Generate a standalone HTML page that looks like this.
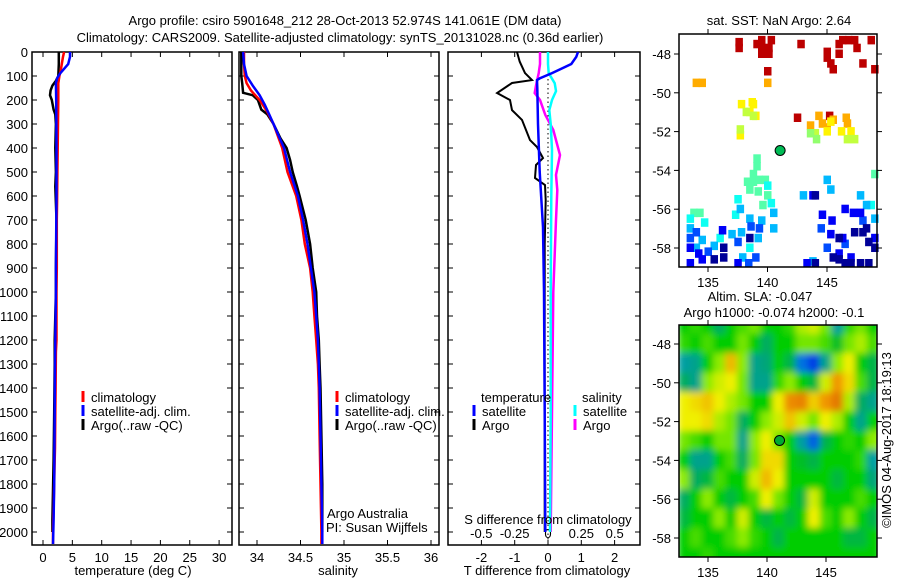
<!DOCTYPE html>
<html><head><meta charset="utf-8"><style>
html,body{margin:0;padding:0;background:#fff;}
svg{display:block;font-family:"Liberation Sans",sans-serif;}
text{font-size:13px;fill:#000;}
</style></head><body>
<svg id="fig" width="900" height="580" viewBox="0 0 900 580">
<defs>
<filter id="blur" x="-5%" y="-5%" width="110%" height="110%"><feGaussianBlur stdDeviation="3.5" edgeMode="duplicate"/></filter>
<clipPath id="clipSla"><rect x="679" y="325" width="198" height="232"/></clipPath>
</defs>
<text x="345" y="25" text-anchor="middle">Argo profile: csiro 5901648_212 28-Oct-2013 52.974S 141.061E (DM data)</text>
<text x="340" y="42" text-anchor="middle">Climatology: CARS2009. Satellite-adjusted climatology: synTS_20131028.nc (0.36d earlier)</text>
</svg>
<script>
// ---- profile data (depth m, value) ----
const tempClimDepth=[0,20,50,80,100,130,200,300,400,500,620,700,900,1000,1200,1250,1400,1500,1650,1700,1800,2000,2050];
const tempClimVal=[3.6,3.4,3.2,3.0,2.8,2.6,2.6,2.55,2.5,2.45,2.4,2.35,2.35,2.3,2.3,2.2,2.15,2.1,2.05,2.0,1.9,1.7,1.7];
const tempSatDepth=[0,20,50,70,90,110,130,200,400,600,900,1000,1300,1500,1800,1950,2050];
const tempSatVal=[4.6,4.6,4.3,3.6,2.9,2.4,2.2,2.25,2.3,2.3,2.2,2.2,2.05,2.0,1.9,1.8,1.7];
const tempArgoDepth=[0,50,100,120,140,160,180,200,240,260,300,400,500,560,700,900,1000,1200,1300,1500,1700,1950,2000];
const tempArgoVal=[2.7,2.7,2.6,2.2,1.6,1.3,1.2,1.5,1.8,2.1,2.2,2.1,2.2,2.1,2.3,2.2,2.2,2.0,2.0,1.9,1.8,1.6,1.6];
const salClimDepth=[0,50,100,130,160,200,250,300,400,500,600,700,800,900,1000,1100,1200,1300,1400,1600,1800,2000,2050];
const salClimVal=[33.85,33.85,33.86,33.88,33.93,34.03,34.12,34.19,34.29,34.35,34.45,34.51,34.55,34.61,34.64,34.66,34.68,34.70,34.71,34.72,34.73,34.74,34.74];
const salSatDepth=[0,50,100,140,180,220,260,300,400,500,600,700,800,900,1000,1100,1200,1300,1400,1600,1800,2000,2050];
const salSatVal=[33.84,33.85,33.88,33.95,34.03,34.09,34.14,34.19,34.31,34.38,34.47,34.53,34.58,34.62,34.66,34.68,34.70,34.71,34.72,34.73,34.74,34.75,34.75];
const salArgoDepth=[0,50,100,130,170,180,200,240,260,300,360,400,450,500,560,600,700,800,900,1000,1100,1200,1300,1400,1600,1800,2000];
const salArgoVal=[33.82,33.82,33.82,33.83,33.84,33.95,34.01,34.05,34.12,34.19,34.27,34.34,34.38,34.41,34.46,34.49,34.56,34.61,34.64,34.68,34.69,34.71,34.72,34.73,34.74,34.75,34.75];
const dTSatDepth=[0,20,50,70,88,110,117,150,300,500,729,1000,1500,2000];
const dTSatVal=[0.9,0.85,0.7,0.4,0.12,-0.25,-0.33,-0.32,-0.3,-0.25,-0.15,-0.12,-0.1,-0.08];
const dTArgoDepth=[0,40,88,117,129,171,200,242,283,367,396,442,471,525,554,617,800,1000,1500,2000];
const dTArgoVal=[-0.93,-0.85,-0.69,-0.48,-1.08,-1.53,-1.14,-1.08,-0.78,-0.54,-0.33,-0.15,-0.36,-0.39,-0.09,-0.07,-0.1,-0.1,-0.1,-0.1];
const dSSatDepth=[0,50,88,130,163,200,242,300,408,600,1000,1500,2000];
const dSSatVal=[0.0,0.0,0.005,0.05,0.06,0.03,0.01,0.02,0.03,0.025,0.02,0.02,0.015];
const dSArgoDepth=[0,50,88,140,171,200,262,325,429,512,575,700,1000,1500,2000];
const dSArgoVal=[-0.06,-0.06,-0.07,-0.09,-0.1,-0.06,-0.02,0.04,0.09,0.06,0.07,0.06,0.04,0.03,0.02];
const depthTicks=[0,100,200,300,400,500,600,700,800,900,1000,1100,1200,1300,1400,1500,1600,1700,1800,1900,2000];
const tempTicks=[0,5,10,15,20,25,30];
const salTicks=[34,34.5,35,35.5,36];
const tdTicks=[-2,-1,0,1,2];
const sdTicks=[-0.5,-0.25,0,0.25,0.5];
// ---- SST map cells ----
const sstLon=[137.6,137.6,139.1,139.5,139.5,139.5,140.3,140.1,140.1,142.8,145,145,145.3,145.5,146,146,146.3,146.8,147.3,147.5,148.7,148,149,140,142.5,145.2,
134,134.5,140,143.6,144.3,144.6,145.5,146.7,146.6,145,
137.8,138.8,138.5,139,137.7,145,146.2,147,145.3,138.7,
138.2,138.8,137.7,144,146.7,147.3,144.1,143.6,
139.1,139.1,138.8,138.3,138.8,139.3,139.8,138.5,139.2,140,149,133.8,134.3,139.6,
137.5,140,140.3,133.5,134.7,137.3,138.5,148.7,136,
137.7,138.5,139.5,140.5,133.5,134.5,135.5,134,137,137.8,139.2,143,145.3,145,147.8,148.3,149,140.5,137.9,143.8,
133.5,134,135,137.5,138.6,139.3,144.5,145,146.5,148,138.4,139,
133.5,134.2,136.2,143.8,144.6,145.4,146.5,147.2,147.8,146,147,145.3,146.3,149,134.5,133.5,137.5,143.3,
135.5,136.3,136.3,138.5,144,145.5,146,147.3,148,148.5,149,148.3,146.5,147,147.8,148.5,144,146];
const sstLat=[-47.4,-47.7,-47.5,-47.3,-47.7,-48,-47.3,-47.7,-48,-47.5,-47.9,-48.2,-48.5,-48.8,-47.5,-48,-47.3,-47.3,-47.3,-47.7,-47.3,-48.5,-48.8,-48.9,-51.3,-51.2,
-49.5,-49.5,-49.5,-51.7,-51.2,-51.6,-51.4,-51.6,-51.3,-51.8,
-50.6,-50.6,-51,-51.2,-52.2,-52,-52,-52,-51.5,-50.5,
-51,-51.2,-51.9,-52.1,-52.4,-52.4,-52.4,-52.1,
-53.4,-53.8,-54.2,-54.6,-54.6,-54.5,-54.5,-55,-55.1,-55.3,-54.2,-56.2,-56.2,-55.8,
-55.5,-54.8,-55.7,-56.5,-56.7,-56.3,-58,-55.8,-57.5,
-56,-56.5,-56.6,-56.2,-57,-57.6,-57.9,-58,-57.3,-57.2,-57.5,-55.3,-55,-54.5,-55.3,-55.8,-56.5,-57,-58.5,-58.7,
-57.5,-57.2,-58.2,-57.7,-56.9,-57,-57,-58,-57.8,-56.6,-58.8,-58.5,
-58,-58.3,-57.1,-55.3,-56.3,-56.6,-56,-56.2,-56.2,-58.3,-58.5,-57.3,-57.5,-57.5,-58.6,-58.8,-58.8,-58.8,
-58.6,-58,-58.5,-57.5,-55.3,-58.5,-57.5,-57.2,-57.2,-57.7,-58,-57,-58.8,-58.8,-58.8,-58.8,-58.8,-58.6];
const sstVal=[8,8,8,8,8,8,8,8,8,8,8,8,8,8,8,8,8,8,8,8,8,8,8,8,8,8,
6,6,6,6,6,6,6,6,6,6,
5.4,5.4,5.4,5.4,5.4,5.4,5.4,5.4,5.4,5.4,
4.8,4.8,4.8,4.8,4.8,4.8,4.4,4.4,
3.9,3.9,3.9,3.9,3.9,3.9,3.9,3.9,3.9,3.9,3.9,3.9,3.9,3.9,
3.3,3.3,3.3,3.3,3.3,3.3,3.3,3.3,3.3,
2.6,2.6,2.6,2.6,2.6,2.6,2.6,2.6,2.6,2.6,2.6,2.6,2.6,2.6,2.6,2.6,2.6,2.6,2.6,2.6,
1.7,1.7,1.7,1.7,1.7,1.7,1.7,1.7,1.7,1.7,1.7,1.7,
1.0,1.0,1.0,1.0,1.0,1.0,1.0,1.0,1.0,1.0,1.0,1.0,1.0,1.0,1.0,1.0,1.0,1.0,
0.2,0.2,0.2,0.2,0.2,0.2,0.2,0.2,0.2,0.2,0.2,0.2,0.2,0.2,0.2,0.2,0.2,0.2];
// ---- SLA grid (lon 133..149, lat -47..-59) ----
const slaLons=[133,134,135,136,137,138,139,140,141,142,143,144,145,146,147,148,149];
const slaLats=[-47,-48,-49,-50,-51,-52,-53,-54,-55,-56,-57,-58,-59];
const slaGrid=[
[0,0.02,0,-0.08,0,0.03,0.05,0,0,0.02,0.08,0.1,0.05,-0.14,0.02,0.05,0],
[0.02,0,0.03,0,0,0.05,0,-0.08,0,0,0.05,0.05,0.03,-0.03,0.05,0.08,0.03],
[-0.14,-0.12,0,0.06,0.17,0.06,-0.12,-0.1,0,-0.06,-0.24,-0.32,-0.12,0.06,0.12,0,-0.06],
[-0.08,-0.12,0.06,0.1,0.12,0.05,-0.12,-0.12,0.02,0.06,0,-0.05,0.1,0.2,0.14,0.03,-0.06],
[0.12,0.14,0.16,0.12,0.08,0.05,0,0,0.12,0.22,0.24,0.15,0.2,0.26,0.08,-0.08,-0.12],
[0.12,0.12,0.14,0.08,0.05,-0.08,0,0.06,0.1,0.16,0.1,0.05,0.12,0.08,0,-0.12,0],
[0.05,0.03,0,0.05,0.05,-0.12,0.06,0.12,0.05,0,-0.14,-0.26,-0.06,0,0.02,0,0.06],
[0,-0.12,-0.12,0,0.03,-0.08,0.05,0.14,0.14,0,-0.03,-0.06,0,0,0,0.02,-0.14],
[0.06,-0.08,-0.05,0.03,0,0,0.1,0.17,0.12,0,0,0,0,-0.05,0,0,-0.1],
[-0.08,0,0.06,0,-0.05,0,0.03,0.12,0.05,0,-0.05,0.1,0,0,0,0.03,0],
[-0.05,0,0,0.06,0,0.1,0,-0.05,0,-0.05,0,0.12,0.03,0,0.06,0,-0.06],
[0,0.03,0,0,0.03,0.06,0.02,0,-0.06,0,0,0,0,0,-0.05,-0.05,0],
[0,0,0.02,0,0,0,0,0,0,0,0,0,0,0,0,0,0]];
const mapLonTicks=[135,140,145];
const mapLatTicks=[-48,-50,-52,-54,-56,-58];
const argoLon=141.061, argoLat=-52.974;

const NS='http://www.w3.org/2000/svg';
const svg=document.getElementById('fig');
function mk(tag,attrs,parent){const e=document.createElementNS(NS,tag);for(const k in attrs)e.setAttribute(k,attrs[k]);(parent||svg).appendChild(e);return e;}
function txt(x,y,s,anchor,parent){const t=mk('text',{x:x,y:y,'text-anchor':anchor||'start'},parent);t.textContent=s;return t;}
const yD=d=>52+d*0.24;
const PT={x0:32,x1:232}, PS={x0:239,x1:439}, PD={x0:448,x1:640};
const xT=v=>43+v*5.87, xS=v=>257+(v-34)*87, xTd=v=>548+v*33.3, xSd=v=>548+v*133.3;
const B=545;

function frame(P,name){
  const r=mk('rect',{x:P.x0,y:52,width:P.x1-P.x0,height:B-52,fill:'none',stroke:'#000','stroke-width':1.5});
  
  
  depthTicks.forEach(d=>{
    mk('line',{x1:P.x0,x2:P.x0+5,y1:yD(d),y2:yD(d),stroke:'#000'});
    mk('line',{x1:P.x1-5,x2:P.x1,y1:yD(d),y2:yD(d),stroke:'#000'});
  });
}
function xticks(vals,f,labels){
  vals.forEach(v=>{const x=f(v);mk('line',{x1:x,x2:x,y1:B,y2:B-5,stroke:'#000'});mk('line',{x1:x,x2:x,y1:52,y2:57,stroke:'#000'});
    if(labels){const t=txt(x,B+17,String(v),'middle');}});
}
function line(ds,vs,f,color,w,name){
  const pts=ds.map((d,i)=>f(vs[i]).toFixed(1)+','+yD(d).toFixed(1)).join(' ');
  const p=mk('polyline',{points:pts,fill:'none',stroke:color,'stroke-width':w,'stroke-linejoin':'miter'});
  
  
}
function legend(x,y,items){
  items.forEach((it,i)=>{mk('line',{x1:x,x2:x,y1:y+i*14-11,y2:y+i*14,stroke:it[0],'stroke-width':3});
    const t=txt(x+8,y+i*14,it[1]);});
}
// panel 1
frame(PT,'temperature-panel');
depthTicks.forEach(d=>{const t=txt(28,yD(d)+5,String(d),'end');});
xticks(tempTicks,xT,true);
line(tempArgoDepth,tempArgoVal,xT,'#000',2.5,'temp-argo-line');
line(tempClimDepth,tempClimVal,xT,'#f00',2.5,'temp-climatology-line');
line(tempSatDepth,tempSatVal,xT,'#00f',2.5,'temp-satellite-line');
legend(83,402,[['#f00','climatology'],['#00f','satellite-adj. clim.'],['#000','Argo(..raw -QC)']]);
let t=txt(133,575,'temperature (deg C)','middle');
// panel 2
frame(PS,'salinity-panel');
xticks(salTicks,xS,true);
line(salArgoDepth,salArgoVal,xS,'#000',2.5,'sal-argo-line');
line(salClimDepth,salClimVal,xS,'#f00',2.5,'sal-climatology-line');
line(salSatDepth,salSatVal,xS,'#00f',2.5,'sal-satellite-line');
legend(337,402,[['#f00','climatology'],['#00f','satellite-adj. clim.'],['#000','Argo(..raw -QC)']]);
t=txt(327,518,'Argo Australia');
t=txt(326,532,'PI: Susan Wijffels');
t=txt(338,575,'salinity','middle');
// panel 3
frame(PD,'difference-panel');
xticks(tdTicks,xTd,true);
sdTicks.forEach(v=>{const tt=txt(xSd(v),538,String(v),'middle');});
mk('line',{x1:548,x2:548,y1:52,y2:B,stroke:'#000','stroke-dasharray':'1.5,3'});
line(dTArgoDepth,dTArgoVal,xTd,'#000',2,'tdiff-argo-line');
line(dSArgoDepth,dSArgoVal,xSd,'#f0f',2.5,'sdiff-argo-line');
line(dSSatDepth,dSSatVal,xSd,'#0ff',2.5,'sdiff-satellite-line');
line(dTSatDepth,dTSatVal,xTd,'#00f',2.5,'tdiff-satellite-line');
t=txt(481,402,'temperature');
t=txt(582,402,'salinity');
legend(474,416,[['#00f','satellite'],['#000','Argo']]);
legend(575,416,[['#0ff','satellite'],['#f0f','Argo']]);
t=txt(548,524,'S difference from climatology','middle');
t=txt(547,575,'T difference from climatology','middle');

// maps
function jet(v,lo,hi){let x=(v-lo)/(hi-lo);x=Math.max(0,Math.min(1,x));
  const r=Math.max(0,Math.min(1,1.5-Math.abs(4*x-3))),g=Math.max(0,Math.min(1,1.5-Math.abs(4*x-2))),b=Math.max(0,Math.min(1,1.5-Math.abs(4*x-1)));
  return `rgb(${Math.round(r*255)},${Math.round(g*255)},${Math.round(b*255)})`;}
function mapAxes(M,name){
  const r=mk('rect',{x:M.x0,y:M.y0,width:M.x1-M.x0,height:M.y1-M.y0,fill:'none',stroke:'#000','stroke-width':1.5});
  
  mapLonTicks.forEach(l=>{const x=M.lx(l);mk('line',{x1:x,x2:x,y1:M.y1,y2:M.y1+5,stroke:'#000'});mk('line',{x1:x,x2:x,y1:M.y0,y2:M.y0-5,stroke:'#000'});
    const tt=txt(x,M.y1+20,String(l),'middle');});
  mapLatTicks.forEach(l=>{const y=M.ly(l);mk('line',{x1:M.x0,x2:M.x0-5,y1:y,y2:y,stroke:'#000'});mk('line',{x1:M.x1,x2:M.x1+5,y1:y,y2:y,stroke:'#000'});
    const tt=txt(M.x0-8,y+5,String(l),'end');});
  const c=mk('circle',{cx:M.lx(argoLon),cy:M.ly(argoLat),r:5,fill:M.dot,stroke:'#000','stroke-width':1});
  
}
const M1={x0:679,x1:877,y0:34,y1:267,lx:l=>708+(l-135)*11.9,ly:l=>54+(-48-l)*19.4,dot:'#0b5'};
const sstG=mk('g',{});
sstLon.forEach((lo,i)=>{mk('rect',{x:(M1.lx(lo)-3.5).toFixed(1),y:(M1.ly(sstLat[i])-4.5).toFixed(1),width:7.5,height:8.5,fill:jet(sstVal[i],0,8.5)},sstG);});
mapAxes(M1,'sst-map');
t=txt(779,25,'sat. SST: NaN Argo: 2.64','middle');

const M2={x0:679,x1:877,y0:325,y1:557,lx:l=>708+(l-135)*11.8,ly:l=>344+(-48-l)*19.4,dot:'#0a3'};
function slaColor(v){ // blue -> cyan -> green -> yellow -> orange
  const stops=[[-0.3,[0,60,230]],[-0.2,[0,150,220]],[-0.1,[0,165,120]],[-0.03,[0,190,40]],[0,[0,205,0]],[0.06,[140,235,0]],[0.12,[240,240,0]],[0.2,[240,150,0]],[0.3,[220,100,0]]];
  v=Math.max(-0.3,Math.min(0.3,v));
  for(let i=0;i<stops.length-1;i++){const a=stops[i],b=stops[i+1];if(v<=b[0]){const f=(v-a[0])/(b[0]-a[0]);return `rgb(${a[1].map((c,k)=>Math.round(c+(b[1][k]-c)*f)).join(',')})`;}}
  return 'rgb(220,100,0)';}
const slaClip=mk('g',{'clip-path':'url(#clipSla)'});
const slaG=mk('g',{filter:'url(#blur)'},slaClip);

slaLats.forEach((la,j)=>slaLons.forEach((lo,i)=>{
  mk('rect',{x:(M2.lx(lo)-6.5).toFixed(1),y:(M2.ly(la)-10.2).toFixed(1),width:13.5,height:20.8,fill:slaColor(slaGrid[j][i])},slaG);}));
mapAxes(M2,'sla-map');
t=txt(760,301,'Altim. SLA: -0.047','middle');
t=txt(774,317,'Argo h1000: -0.074 h2000: -0.1','middle');
t=txt(0,0,'©IMOS 04-Aug-2017 18:19:13','middle');t.setAttribute('transform','translate(891,440) rotate(-90)');

</script>
</body></html>
